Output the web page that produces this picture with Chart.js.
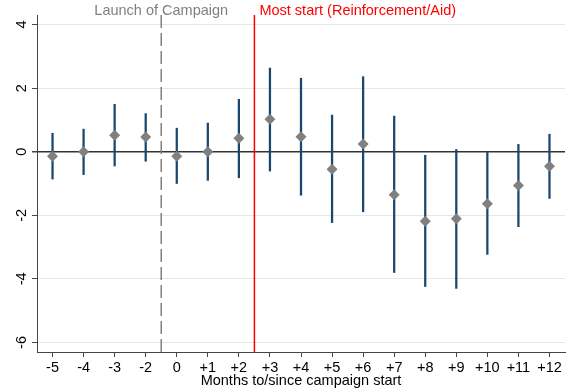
<!DOCTYPE html>
<html>
<head>
<meta charset="utf-8">
<script src="https://cdn.jsdelivr.net/npm/chart.js@4/dist/chart.umd.min.js"></script>
<style>
  html, body { margin: 0; padding: 0; background: #fff; }
  #wrap { width: 574px; height: 390px; }
</style>
</head>
<body>
<div id="wrap"><canvas id="chart" width="574" height="390"></canvas></div>
<script>
// data
const xLabels = ['-5', '-4', '-3', '-2', '0', '+1', '+2', '+3', '+4', '+5', '+6', '+7', '+8', '+9', '+10', '+11', '+12'];
const estimates = [-0.14, 0.00, 0.52, 0.46, -0.14, 0.00, 0.42, 1.02, 0.47, -0.55, 0.24, -1.35, -2.19, -2.11, -1.64, -1.06, -0.46];
const ciLow = [-0.86, -0.72, -0.45, -0.30, -1.00, -0.90, -0.82, -0.61, -1.37, -2.23, -1.89, -3.80, -4.24, -4.30, -3.23, -2.36, -1.47];
const ciHigh = [0.58, 0.71, 1.49, 1.20, 0.74, 0.90, 1.65, 2.63, 2.31, 1.15, 2.36, 1.12, -0.11, 0.07, -0.02, 0.23, 0.55];
const yTicks = [-6, -4, -2, 0, 2, 4];

// event markers (position on the month index axis)
const launchAt = 3.5;
const launchText = 'Launch of Campaign';
const mostStartAt = 6.5;
const mostStartText = 'Most start (Reinforcement/Aid)';

const FONT = "'Liberation Sans', Arial, Helvetica, sans-serif";
Chart.defaults.font.family = FONT;
Chart.defaults.font.size = 14.5;
Chart.defaults.color = '#000';

const ciBars = xLabels.map((_, i) => ({ x: i, y: [ciLow[i], ciHigh[i]] }));
const points = xLabels.map((_, i) => ({ x: i, y: estimates[i] }));

// vertical event lines + their labels
const eventLines = {
    id: 'eventLines',
    beforeDatasetsDraw(chart) {
        const { ctx, chartArea, scales } = chart;
        const xl = scales.x.getPixelForValue(launchAt);
        const xm = scales.x.getPixelForValue(mostStartAt);
        ctx.save();
        ctx.lineWidth = 1.5;
        ctx.strokeStyle = '#808080';
        ctx.setLineDash([13, 5]);
        ctx.beginPath();
        ctx.moveTo(xl, chartArea.top);
        ctx.lineTo(xl, chartArea.bottom);
        ctx.stroke();
        ctx.setLineDash([]);
        ctx.strokeStyle = '#ff0000';
        ctx.beginPath();
        ctx.moveTo(xm, chartArea.top);
        ctx.lineTo(xm, chartArea.bottom);
        ctx.stroke();
        ctx.restore();
    },
    afterDraw(chart) {
        const { ctx, scales } = chart;
        const xl = scales.x.getPixelForValue(launchAt);
        const xm = scales.x.getPixelForValue(mostStartAt);
        ctx.save();
        ctx.font = '14.5px ' + FONT;
        ctx.textBaseline = 'alphabetic';
        ctx.fillStyle = '#808080';
        ctx.textAlign = 'center';
        ctx.fillText(launchText, xl, 15);
        ctx.fillStyle = '#ff0000';
        ctx.textAlign = 'left';
        ctx.fillText(mostStartText, xm + 5, 15);
        ctx.restore();
    }
};

new Chart(document.getElementById('chart'), {
    type: 'bar',
    data: {
        datasets: [
            {
                type: 'scatter',
                data: points,
                pointStyle: 'rectRot',
                pointRadius: 5.5,
                backgroundColor: '#808080',
                borderColor: '#808080',
                borderWidth: 0,
                order: 0
            },
            {
                type: 'bar',
                data: ciBars,
                backgroundColor: '#1a476f',
                borderWidth: 0,
                barThickness: 1.6,
                order: 1
            }
        ]
    },
    options: {
        responsive: false,
        animation: false,
        devicePixelRatio: 1,
        layout: { padding: { top: 15, right: 9, left: 0, bottom: 0 } },
        plugins: {
            legend: { display: false },
            tooltip: { enabled: false }
        },
        scales: {
            x: {
                type: 'linear',
                min: -0.5,
                max: 16.5,
                offset: false,
                afterBuildTicks: (axis) => { axis.ticks = xLabels.map((_, i) => ({ value: i })); },
                afterFit: (axis) => { axis.height = 38; },
                ticks: {
                    padding: 2,
                    callback: (v) => xLabels[v]
                },
                grid: { offset: false, drawOnChartArea: false, tickColor: '#444', tickLength: 5 },
                border: { color: '#444', width: 1 },
                title: {
                    display: true,
                    text: 'Months to/since campaign start',
                    padding: { top: 0, bottom: 0 },
                    font: { size: 14.5 }
                }
            },
            y: {
                min: -6.3,
                max: 4.3,
                afterBuildTicks: (axis) => { axis.ticks = yTicks.map(v => ({ value: v })); },
                afterFit: (axis) => { axis.width = 37; },
                ticks: {
                    minRotation: 90,
                    maxRotation: 90,
                    crossAlign: 'center',
                    padding: 4
                },
                grid: {
                    color: (c) => c.tick && c.tick.value === 0 ? '#333' : '#e6e6e6',
                    lineWidth: (c) => c.tick && c.tick.value === 0 ? 1.5 : 1,
                    tickColor: '#444',
                    tickLength: 5
                },
                border: { color: '#444', width: 1 }
            }
        }
    },
    plugins: [eventLines]
});
</script>
</body>
</html>
